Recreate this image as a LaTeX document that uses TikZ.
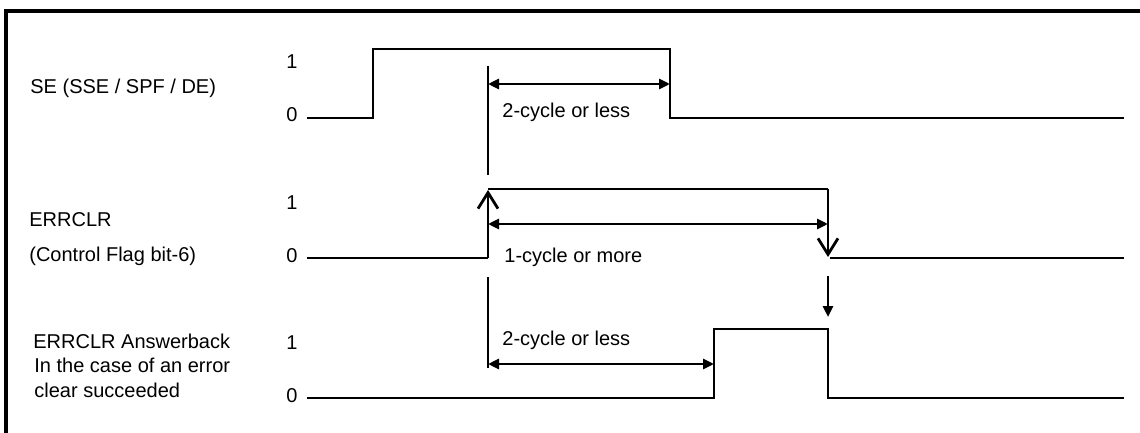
\documentclass[tikz,border=0pt]{standalone}
\usepackage{fontspec}
\setmainfont{Liberation Sans}
\usetikzlibrary{arrows.meta,positioning,calc}

\tikzset{
  sig/.style={line width=1.1pt},
  guide/.style={line width=0.8pt},
  dim/.style={line width=1.4pt,
    {Triangle[length=5.5pt,width=5pt]}-{Triangle[length=5.5pt,width=5pt]}},
  edgearrow/.style={line width=1.4pt, -{Straight Barb[length=8pt,width=10pt]}},
  passarrow/.style={line width=1.3pt, -{Triangle[length=5.5pt,width=5pt]}},
  signame/.style={inner sep=0pt, anchor=base west},
  level/.style={inner sep=0pt, anchor=base},
  note/.style={inner sep=0pt, anchor=base west},
}

\begin{document}
\begin{tikzpicture}[x=0.5pt, y=-0.5pt, line cap=butt, line join=miter,
                    font=\fontsize{10}{12.5}\selectfont]
    \clip (0,0) rectangle (1140,433);
    % ── frame (cut off at right and bottom) ─────────────────────────────────
    \draw[line width=2pt] (6,470) |- (1170,11);

    % ── time marks ─────────────────────────────────────────────────────────
    \coordinate (seRise)  at (373,0);
    \coordinate (setT)    at (488,0);
    \coordinate (seFall)  at (670,0);
    \coordinate (ansRise) at (714,0);
    \coordinate (clrFall) at (828,0);

    % ── signal names and levels ────────────────────────────────────────────
    \node[signame] (seName) at (30,94) {SE (SSE / SPF / DE)};
    \node[signame] (clrName) at (29,226) {ERRCLR};
    \node[signame] (clrSub) at (29,261) {(Control Flag bit-6)};
    \node[signame] (ansName) at (33,348) {ERRCLR Answerback};
    \node[signame] (ansSubA) at (34,372) {In the case of an error};
    \node[signame] (ansSubB) at (34,397) {clear succeeded};
    \foreach \hi/\lo/\n in {49/118/se, 189/258/clr, 329/398/ans} {
      \node[level] (\n One)  at (292,\hi+20) {1};
      \node[level] (\n Zero) at (292,\lo+4) {0};
    }

    % ── SE waveform ────────────────────────────────────────────────────────
    \draw[sig] (307,118) -- (seRise |- 0,118) -- (seRise |- 0,49)
      -- (seFall |- 0,49) -- (seFall |- 0,118) -- (1124,118);

    % ── ERRCLR waveform, edges marked with open arrows ────────────────────
    \draw[sig] (307,258) -- (setT |- 0,258);
    \draw[edgearrow] (setT |- 0,258) -- (setT |- 0,190);
    \draw[sig] (setT |- 0,189) -- (clrFall |- 0,189);
    \draw[edgearrow] (clrFall |- 0,189) -- (clrFall |- 0,257);
    \draw[sig] (830,258) -- (1124,258);

    % ── answerback waveform ────────────────────────────────────────────────
    \draw[sig] (307,398) -- (ansRise |- 0,398) -- (ansRise |- 0,329)
      -- (clrFall |- 0,329) -- (clrFall |- 0,398) -- (1124,398);

    % ── reference lines at the set point ───────────────────────────────────
    \draw[guide] (setT |- 0,66) -- (setT |- 0,175);
    \draw[guide] (setT |- 0,277) -- (setT |- 0,368);
    \draw[passarrow] (clrFall |- 0,276) -- (clrFall |- 0,317);

    % ── intervals ──────────────────────────────────────────────────────────
    \draw[dim] (setT |- 0,84) -- (seFall |- 0,84);
    \node[note] (seGap) at (502,118) {2-cycle or less};
    \draw[dim] (setT |- 0,224) -- (clrFall |- 0,224);
    \node[note] (clrGap) at (504,262) {1-cycle or more};
    \draw[dim] (setT |- 0,364) -- (ansRise |- 0,364);
    \node[note] (ansGap) at (502,345) {2-cycle or less};
\end{tikzpicture}
\end{document}
